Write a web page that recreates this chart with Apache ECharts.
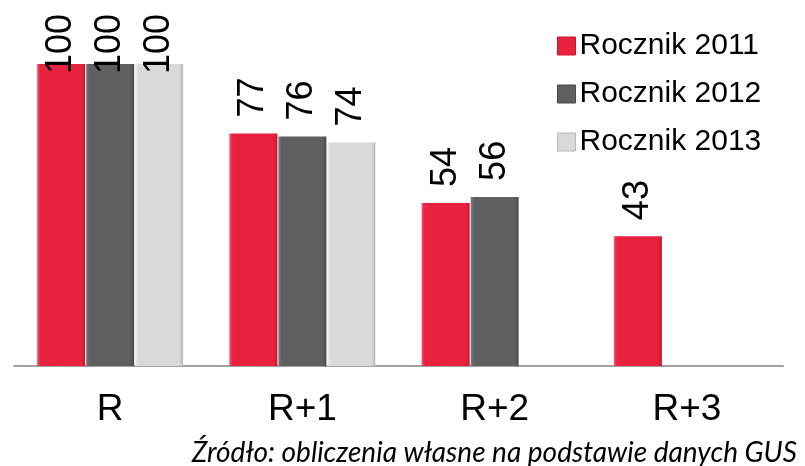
<!DOCTYPE html>
<html>
<head>
<meta charset="utf-8">
<script src="https://cdn.jsdelivr.net/npm/echarts@6/dist/echarts.min.js"></script>
<style>
html,body{margin:0;padding:0;background:#fff;}
#chart{width:805px;height:466px;}
</style>
</head>
<body>
<div id="chart"></div>
<script>
var categories = ['R', 'R+1', 'R+2', 'R+3'];
var seriesNames = ['Rocznik 2011', 'Rocznik 2012', 'Rocznik 2013'];
var rocznik2011 = [100, 77, 54, 43];
var rocznik2012 = [100, 76, 56, null];
var rocznik2013 = [100, 74, null, null];
var sourceText = 'Źródło: obliczenia własne na podstawie danych GUS';

var palettes = [
  {main: '#e8213f', edge: '#c9162f', light: '#f0506a'},
  {main: '#5e5f61', edge: '#48494b', light: '#7d7e80'},
  {main: '#d9d9d9', edge: '#b8b8b8', light: '#efefef'}
];

function grad(p) {
  return new echarts.graphic.LinearGradient(0, 0, 1, 0, [
    {offset: 0, color: p.light},
    {offset: 0.07, color: p.main},
    {offset: 0.92, color: p.main},
    {offset: 1, color: p.edge}
  ]);
}

function buildData(vals) {
  return vals.map(function (v) {
    if (v === null) return null;
    // Excel pushes labels that would leave the chart area back down
    if (v >= 100) return {value: v, label: {distance: -10}};
    return v;
  });
}

var FONT = 'Liberation Sans, Arial, sans-serif';

var allVals = [rocznik2011, rocznik2012, rocznik2013];
var series = allVals.map(function (vals, i) {
  return {
    name: seriesNames[i],
    type: 'bar',
    barWidth: 48,
    barGap: '2%',
    data: buildData(vals),
    itemStyle: {color: grad(palettes[i])},
    label: {
      show: true,
      position: 'top',
      rotate: 90,
      align: 'left',
      verticalAlign: 'middle',
      distance: 16,
      fontSize: 36,
      fontFamily: FONT,
      color: '#000'
    },
    emphasis: {disabled: true}
  };
});

// fit the italic source note to the width it takes in the original
var srcFamily = 'Lato, "Open Sans", sans-serif';
var cv = document.createElement('canvas').getContext('2d');
cv.font = 'italic 26px ' + srcFamily;
var srcSize = Math.min(28, 26 * 612 / cv.measureText(sourceText).width);

var chart = echarts.init(document.getElementById('chart'), null, {renderer: 'canvas'});
chart.setOption({
  animation: false,
  backgroundColor: '#fff',
  grid: {left: 14, right: 22, top: 64, bottom: 100, containLabel: false},
  legend: {
    orient: 'vertical',
    left: 552,
    top: 26,
    itemWidth: 18,
    itemHeight: 18,
    itemGap: 18,
    icon: 'rect',
    textStyle: {fontSize: 30, fontFamily: FONT, color: '#000', padding: [0, 0, 0, -1]},
    data: seriesNames.map(function (n, i) {
      return {name: n, itemStyle: {color: palettes[i].main, borderColor: palettes[i].edge, borderWidth: 1}};
    })
  },
  xAxis: {
    type: 'category',
    data: categories,
    axisLine: {show: true, lineStyle: {color: '#a0a0a0', width: 2}},
    axisTick: {show: false},
    axisLabel: {
      margin: 25,
      fontSize: 37,
      fontFamily: FONT,
      color: '#000'
    }
  },
  yAxis: {
    type: 'value',
    min: 0,
    max: 100,
    show: false,
    splitLine: {show: false}
  },
  graphic: [{
    type: 'text',
    x: 797,
    y: 453,
    style: {
      text: sourceText,
      font: 'italic ' + srcSize.toFixed(1) + 'px ' + srcFamily,
      fill: '#000',
      align: 'right',
      verticalAlign: 'middle'
    }
  }],
  series: series
});
</script>
</body>
</html>
